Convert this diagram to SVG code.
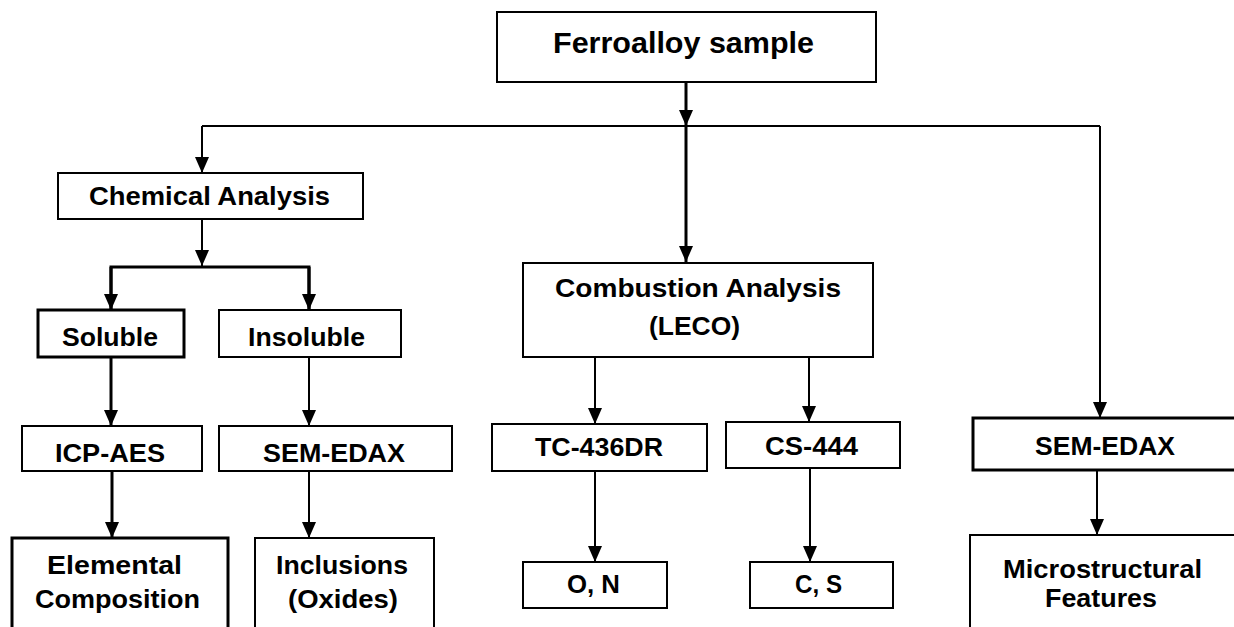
<svg xmlns="http://www.w3.org/2000/svg" width="1234" height="627" viewBox="0 0 1234 627">
<style>
.box{fill:#fff;stroke:#000;stroke-width:2}
.thick{stroke-width:3}
.t{font-family:"Liberation Sans",Arial,sans-serif;font-weight:bold;font-size:25px;fill:#000;text-anchor:start}
.c{fill:none;stroke:#000;stroke-width:2}
.c3{stroke-width:3}
.a{marker-end:url(#ah)}
</style>
<defs>
<marker id="ah" markerUnits="userSpaceOnUse" markerWidth="17" markerHeight="14" refX="16" refY="7" orient="auto">
<path d="M0,0 L16,7 L0,14 z" fill="#000"/>
</marker>
</defs>
<rect width="1234" height="627" fill="#fff"/>
<g id="connectors">
<line class="c c3 a" x1="686" y1="82" x2="686" y2="126"/>
<line class="c" x1="202" y1="126" x2="1100" y2="126"/>
<line class="c c3 a" x1="686" y1="126" x2="686" y2="262"/>
<line class="c a" x1="202" y1="126" x2="202" y2="173"/>
<line class="c a" x1="1100" y1="126" x2="1100" y2="418"/>
<line class="c a" x1="202" y1="219" x2="202" y2="266"/>
<polyline class="c c3" points="111,310 111,267 309,267 309,310"/>
<line class="c c3 a" x1="111" y1="267" x2="111" y2="310"/>
<line class="c c3 a" x1="309" y1="267" x2="309" y2="310"/>
<line class="c c3 a" x1="111" y1="357" x2="111" y2="426"/>
<line class="c a" x1="309" y1="357" x2="309" y2="426"/>
<line class="c c3 a" x1="112" y1="471" x2="112" y2="538"/>
<line class="c a" x1="309" y1="471" x2="309" y2="538"/>
<line class="c a" x1="595" y1="357" x2="595" y2="424"/>
<line class="c a" x1="809" y1="357" x2="809" y2="422"/>
<line class="c a" x1="595" y1="471" x2="595" y2="562"/>
<line class="c a" x1="810" y1="468" x2="810" y2="562"/>
<line class="c a" x1="1097" y1="470" x2="1097" y2="535"/>
</g>
<g id="ferroalloy">
<rect class="box" x="497" y="12" width="379" height="70"/>
<text class="t" x="553" y="53" style="font-size:30px" textLength="261" lengthAdjust="spacingAndGlyphs">Ferroalloy sample</text>
</g>
<g id="chemical">
<rect class="box" x="58" y="173" width="305" height="46"/>
<text class="t" x="89" y="205" textLength="241" lengthAdjust="spacingAndGlyphs">Chemical Analysis</text>
</g>
<g id="soluble">
<rect class="box thick" x="38" y="310" width="146" height="47"/>
<text class="t" x="62" y="346" textLength="96" lengthAdjust="spacingAndGlyphs">Soluble</text>
</g>
<g id="insoluble">
<rect class="box" x="219" y="310" width="182" height="47"/>
<text class="t" x="248" y="346" textLength="117" lengthAdjust="spacingAndGlyphs">Insoluble</text>
</g>
<g id="icp">
<rect class="box" x="22" y="426" width="180" height="45"/>
<text class="t" x="55" y="462" textLength="110" lengthAdjust="spacingAndGlyphs">ICP-AES</text>
</g>
<g id="semedax1">
<rect class="box" x="219" y="426" width="233" height="45"/>
<text class="t" x="263" y="462" textLength="142" lengthAdjust="spacingAndGlyphs">SEM-EDAX</text>
</g>
<g id="elemental">
<rect class="box thick" x="12" y="538" width="216" height="100"/>
<text class="t" x="47" y="574" textLength="135" lengthAdjust="spacingAndGlyphs">Elemental</text>
<text class="t" x="35" y="608" textLength="165" lengthAdjust="spacingAndGlyphs">Composition</text>
</g>
<g id="inclusions">
<rect class="box" x="255" y="538" width="179" height="100"/>
<text class="t" x="276" y="574" textLength="132" lengthAdjust="spacingAndGlyphs">Inclusions</text>
<text class="t" x="288" y="608" textLength="110" lengthAdjust="spacingAndGlyphs">(Oxides)</text>
</g>
<g id="combustion">
<rect class="box" x="523" y="263" width="350" height="94"/>
<text class="t" x="555" y="297" textLength="286" lengthAdjust="spacingAndGlyphs">Combustion Analysis</text>
<text class="t" x="649" y="335" textLength="91" lengthAdjust="spacingAndGlyphs">(LECO)</text>
</g>
<g id="tc436dr">
<rect class="box" x="492" y="424" width="215" height="47"/>
<text class="t" x="535" y="456" textLength="128" lengthAdjust="spacingAndGlyphs">TC-436DR</text>
</g>
<g id="cs444">
<rect class="box" x="726" y="422" width="174" height="46"/>
<text class="t" x="765" y="455" textLength="93" lengthAdjust="spacingAndGlyphs">CS-444</text>
</g>
<g id="on">
<rect class="box" x="523" y="562" width="144" height="46"/>
<text class="t" x="567" y="593" textLength="53" lengthAdjust="spacingAndGlyphs">O, N</text>
</g>
<g id="cs">
<rect class="box" x="750" y="562" width="143" height="46"/>
<text class="t" x="795" y="593" textLength="47" lengthAdjust="spacingAndGlyphs">C, S</text>
</g>
<g id="semedax2">
<rect class="box thick" x="973" y="418" width="280" height="52"/>
<text class="t" x="1035" y="455" textLength="140" lengthAdjust="spacingAndGlyphs">SEM-EDAX</text>
</g>
<g id="micro">
<rect class="box" x="970" y="535" width="280" height="110"/>
<text class="t" x="1003" y="578" textLength="199" lengthAdjust="spacingAndGlyphs">Microstructural</text>
<text class="t" x="1045" y="607" textLength="112" lengthAdjust="spacingAndGlyphs">Features</text>
</g>
</svg>
